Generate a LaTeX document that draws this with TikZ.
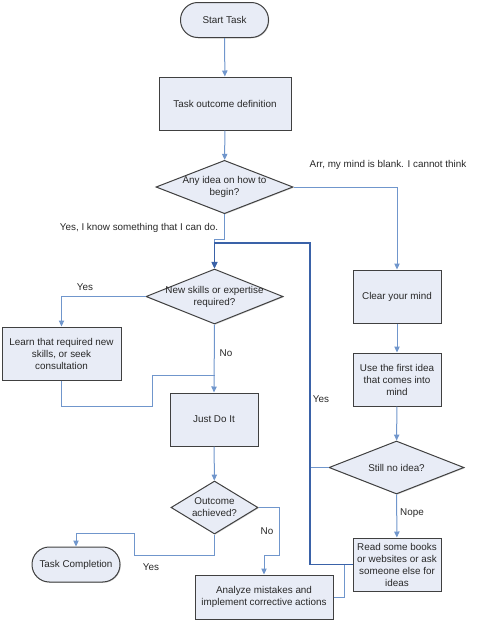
\documentclass[tikz,border=0pt]{standalone}
\usepackage{fontspec}
\setmainfont{Liberation Sans}
\usetikzlibrary{shapes.geometric,arrows.meta,shadows}

\definecolor{flowline}{RGB}{112,150,204}
\definecolor{loopline}{RGB}{58,98,168}
\definecolor{boxfill}{RGB}{232,236,246}
\definecolor{boxedge}{RGB}{64,64,64}
\definecolor{labeltext}{RGB}{40,40,40}

\tikzset{every picture/.style={line width=0.75pt}}
\tikzset{
	flowtext/.style={text=labeltext, inner sep=0.75pt, align=center, font=\fontsize{7.4}{9}\selectfont},
	stepbox/.style={flowtext, draw=boxedge, fill=boxfill, drop shadow={shadow xshift=0.6pt, shadow yshift=-0.6pt, fill=black!35}, minimum width=66pt, minimum height=39.75pt},
	endbox/.style={stepbox, rounded corners=13pt, minimum height=26.25pt},
	decision/.style={diamond, draw=boxedge, fill=boxfill, drop shadow={shadow xshift=0.6pt, shadow yshift=-0.6pt, fill=black!35}, inner sep=0pt, minimum width=102.75pt, minimum height=40pt},
	flow/.style={draw=flowline, -{Triangle[width=4pt,length=4.5pt]}},
	loop/.style={draw=loopline, line width=1pt, -{Triangle[width=4.5pt,length=5pt]}},
}

\begin{document}
\begin{tikzpicture}[x=0.75pt,y=0.75pt,yscale=-1,xscale=1]
	\useasboundingbox (0,0) rectangle (477,640);

	%Shape: Terminal
	\node [endbox] (start) at (224.5,20) {Start Task};
	%Shape: Rectangle
	\node [stepbox, minimum width=99pt] (define) at (225,103.5) {Task outcome definition};
	%Shape: Diamond
	\node [decision] (idea) at (224.5,187) {};
	\node [flowtext] at (idea) {Any idea on how to\\begin?};
	%Shape: Diamond
	\node [decision, minimum height=41.25pt] (skills) at (214.5,296.5) {};
	\node [flowtext] at (skills) {New skills or expertise\\required?};
	%Shape: Rectangle
	\node [stepbox, minimum width=89.25pt] (learn) at (61.5,353.5) {Learn that required new\\skills, or seek\\consultation};
	%Shape: Rectangle
	\node [stepbox] (just) at (214,419.5) {Just Do It};
	%Shape: Diamond
	\node [decision, minimum width=65.25pt, minimum height=39.75pt] (outcome) at (214.5,507.5) {};
	\node [flowtext] at (outcome) {Outcome\\achieved?};
	%Shape: Terminal
	\node [endbox] (finish) at (76,564.5) {Task Completion};
	%Shape: Rectangle
	\node [stepbox, minimum width=103.5pt, minimum height=33pt] (analyze) at (264,597) {Analyze mistakes and\\implement corrective actions};
	%Shape: Rectangle
	\node [stepbox] (clear) at (397,296.5) {Clear your mind};
	%Shape: Rectangle
	\node [stepbox] (useidea) at (397,379.5) {Use the first idea\\that comes into\\mind};
	%Shape: Diamond
	\node [decision, minimum width=101.25pt, minimum height=39.75pt] (still) at (396.5,467.5) {};
	\node [flowtext] at (still) {Still no idea?};
	%Shape: Rectangle
	\node [stepbox] (read) at (397,564.5) {Read some books\\or websites or ask\\someone else for\\ideas};

	% bend points
	\coordinate (yesbend) at (224.5,239);
	\coordinate (loopcorner) at (310,243);
	\coordinate (learnjog) at (152,406);
	\coordinate (learnjoin) at (214.5,375);
	\coordinate (nobend) at (279,555);
	\coordinate (donelow) at (134,555);
	\coordinate (donehigh) at (134,533);
	\coordinate (analyzejoin) at (344,564.5);

	%Straight Lines
	\draw [flow] (start) -- (define);
	\draw [flow] (define) -- (idea);
	\draw [flow] (idea.east) -| (clear.north);
	\draw [flow] (idea.south) -- (yesbend) -| (skills.north);
	\draw [flow] (skills.west) -| (learn.north);
	\draw [flow] (skills.south) -- (just.north);
	\draw [draw=flowline] (learn.south) |- (learnjog) |- (learnjoin);
	\draw [flow] (clear) -- (useidea);
	\draw [flow] (useidea) -- (still);
	\draw [flow] (still) -- (read);
	\draw [draw=flowline] (still.west) -- (still.west -| loopcorner);
	\draw [loop] (read.west) -| (loopcorner) -| (skills.north);
	\draw [draw=flowline] (analyze.east) -| (analyzejoin);
	\draw [flow] (just) -- (outcome);
	\draw [flow] (outcome.east) -| (nobend) -| (analyze.north);
	\draw [flow] (outcome.south) |- (donelow) -- (donehigh) -| (finish.north);

	% Text Node
	\node [flowtext] (arrlabel) at (388,165) {Arr, my mind is blank. I cannot think};
	% Text Node
	\node [flowtext] (knowlabel) at (139,228) {Yes, I know something that I can do.};
	% Text Node
	\node [flowtext] (learnyes) at (85,287) {Yes};
	% Text Node
	\node [flowtext] (skillsno) at (226,353) {No};
	% Text Node
	\node [flowtext] (stillyes) at (321,399) {Yes};
	% Text Node
	\node [flowtext] (nopelabel) at (412,513) {Nope};
	% Text Node
	\node [flowtext] (outcomeno) at (267,531) {No};
	% Text Node
	\node [flowtext] (outcomeyes) at (151,567) {Yes};
\end{tikzpicture}
\end{document}
